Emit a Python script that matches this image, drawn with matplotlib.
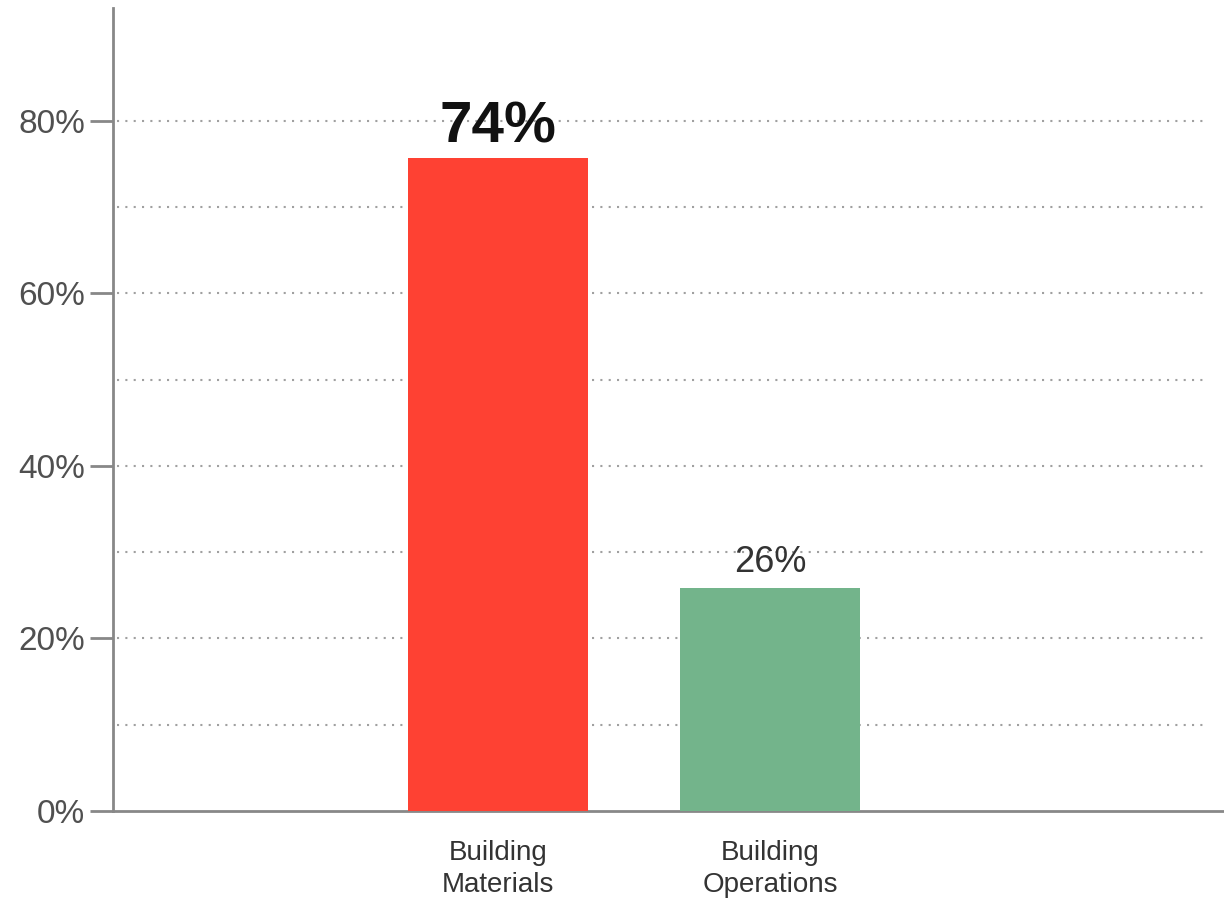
import matplotlib
matplotlib.use("Agg")
import matplotlib.pyplot as plt
from matplotlib.ticker import FixedLocator, FuncFormatter

categories = ["Building\nMaterials", "Building\nOperations"]
values = [75.7, 25.9]
value_labels = ["74%", "26%"]
colors = ["#FE4133", "#73B48B"]
major_ticks = [0, 20, 40, 60, 80]
grid_levels = [10, 20, 30, 40, 50, 60, 70, 80]

plt.rcParams['font.family'] = ['Liberation Sans', 'DejaVu Sans']

fig = plt.figure(figsize=(12.24, 9.01), dpi=100)
ax = fig.add_axes([113/1224, 90/901, 1 - 113/1224, (811 - 8)/901])

x = list(range(len(categories)))
ax.bar(x, values, width=0.662, color=colors, zorder=3)

ax.set_xlim(-1.415, 2.669)
ax.set_ylim(0, 93.1)

for g in grid_levels:
    ax.axhline(g, xmin=0.004, xmax=0.983, color="#a0a0a0", lw=1.5,
               linestyle=(0, (1, 3)), zorder=1)

for spine in ["top", "right"]:
    ax.spines[spine].set_visible(False)
for spine in ["left", "bottom"]:
    ax.spines[spine].set_color("#888888")
    ax.spines[spine].set_linewidth(2)

ax.yaxis.set_major_locator(FixedLocator(major_ticks))
ax.yaxis.set_major_formatter(FuncFormatter(lambda v, p: f"{int(v)}%"))
ax.tick_params(axis="y", length=16.5, width=2, color="#888888",
               labelsize=24, labelcolor="#505050", pad=3.5)
ax.set_xticks(x)
ax.set_xticklabels(categories, fontsize=20, color="#333333", linespacing=1.3)
ax.tick_params(axis="x", length=0, pad=21)

# value labels
ax.annotate(value_labels[0], (x[0], values[0]), xytext=(0, 11.5),
            textcoords="offset points", ha="center", va="baseline",
            fontsize=42, fontweight="bold", color="#111111")
ax.annotate(value_labels[1], (x[1], values[1]), xytext=(0, 11.5),
            textcoords="offset points", ha="center", va="baseline",
            fontsize=26, color="#333333")

fig.savefig("out.png", dpi=100, facecolor="white")
